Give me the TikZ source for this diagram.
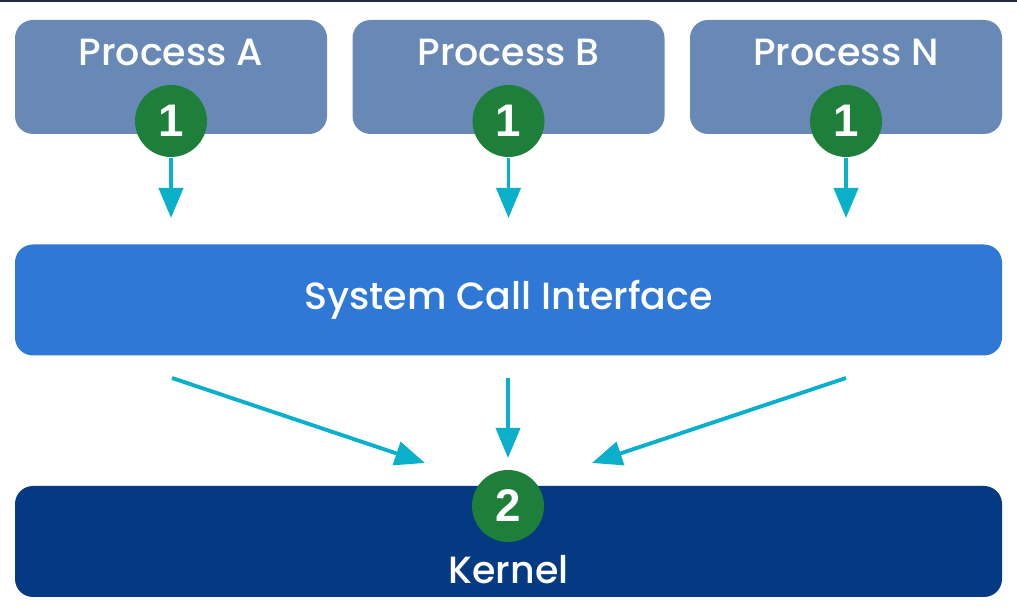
\documentclass[tikz,border=0pt]{standalone}
\usepackage{fontspec}
\setmainfont{Poppins}[UprightFont=* Medium]
\newfontfamily\numfont{Liberation Sans}
\usetikzlibrary{arrows.meta,positioning,calc}
\definecolor{procblue}{HTML}{6889B6}
\definecolor{sciblue}{HTML}{2F78D5}
\definecolor{kernblue}{HTML}{043A81}
\definecolor{badgegreen}{HTML}{1D7F3A}
\definecolor{arrowcyan}{HTML}{0AAFCA}
\definecolor{topline}{HTML}{1F2C3C}
\begin{document}
\begin{tikzpicture}[
  font=\fontsize{10.8}{12}\selectfont,
  >={Triangle[length=3mm, width=2.4mm]},
  proc/.style={fill=procblue, rounded corners=1.8mm, minimum width=31.2mm, minimum height=11.4mm},
  layer/.style={rounded corners=1.8mm, minimum width=98.7mm, minimum height=11.1mm},
  txt/.style={text=white},
  badge/.style={circle, fill=badgegreen, minimum size=7.2mm, inner sep=0pt, text=white, font=\numfont\bfseries\fontsize{13}{13}\selectfont},
  flow/.style={->, draw=arrowcyan, fill=arrowcyan, line width=1.1pt},
]
% frame
\useasboundingbox (0,0) rectangle (10.17,6.13);
\fill[topline] (0,6.11) rectangle (10.17,6.13);
% processes with their badges
\foreach \p/\x/\s in {pA/1.71/A, pB/5.085/B, pN/8.46/N}{
  \node[proc] (\p) at (\x,5.36) {};
  \node[txt] (\p-t) at (\x,5.61) {Process \s};
  \node[badge] (\p-b) at (\x,4.92) {1};
  \coordinate (\p-e) at (\x,3.95);
  \draw[flow] (\p-b) -- (\p-e);
}
% system call interface
\node[layer, fill=sciblue, txt] (sci) at (5.085,3.13) {System Call Interface};
% kernel
\node[layer, fill=kernblue] (kern) at (5.085,0.715) {};
\node[badge] (kb) at (5.08,1.07) {2};
\node[txt] (kt) at (5.085,0.43) {Kernel};
% fan-in to kernel
\coordinate (sL) at (1.72,2.35);
\coordinate (sM) at (5.08,2.35);
\coordinate (sR) at (8.46,2.35);
\coordinate (eL) at (4.25,1.50);
\coordinate (eM) at (5.08,1.55);
\coordinate (eR) at (5.92,1.50);
\draw[flow] (sL) -- (eL);
\draw[flow] (sM) -- (eM);
\draw[flow] (sR) -- (eR);
\end{tikzpicture}
\end{document}
